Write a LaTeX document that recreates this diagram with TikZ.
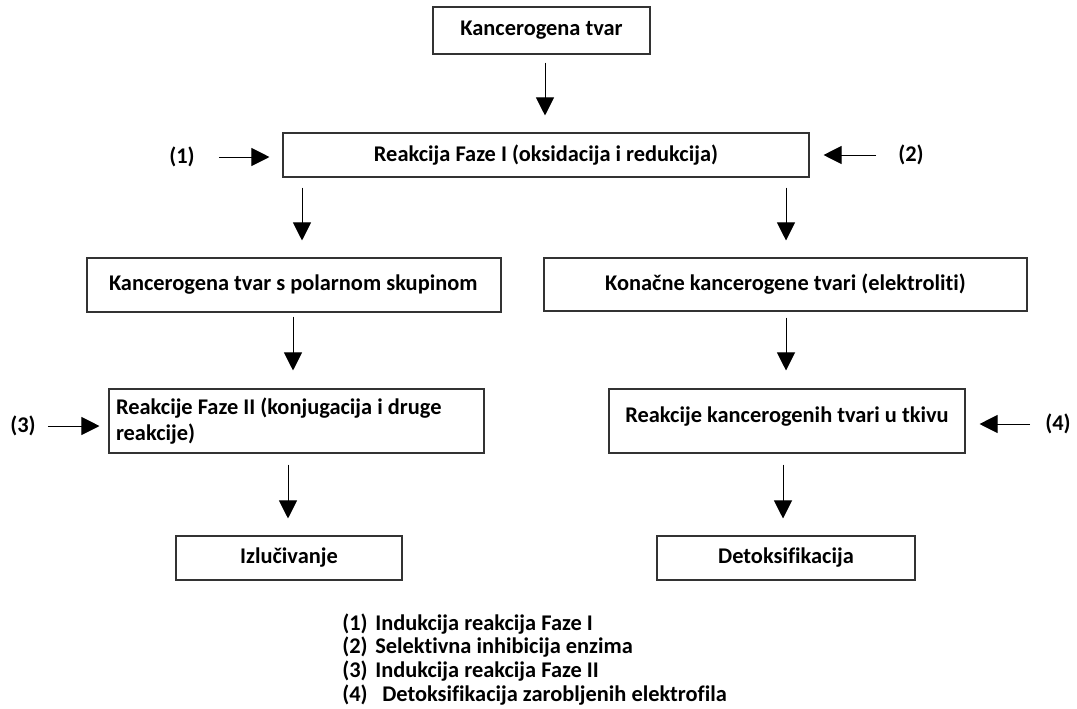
\documentclass[tikz,border=0pt]{standalone}
\usepackage{fontspec}
\setmainfont{Carlito}[Ligatures=NoCommon]
\usepackage{tikz}
\usetikzlibrary{arrows.meta, calc}

\tikzset{
  okvir/.style={draw=black!80, line width=0.8pt, font=\bfseries\fontsize{16.8}{19.5}\selectfont, inner ysep=0pt},
  strelica/.style={line width=0.75pt, -{Triangle[length=13.5pt,width=13.5pt]}},
  oznaka/.style={font=\bfseries\fontsize{16.8}{19.5}\selectfont, inner sep=0pt}
}

\begin{document}
\begin{tikzpicture}[x=0.75pt, y=-0.75pt]
        \useasboundingbox (0,0) rectangle (1077,708);

        \coordinate (T) at (541.5, 30.5);
        \coordinate (F1) at (546, 155);
        \coordinate (P) at (294, 285);
        \coordinate (K) at (785.5, 284.5);
        \coordinate (F2) at (296.5, 421);
        \coordinate (R) at (787, 421);
        \coordinate (I) at (289, 558);
        \coordinate (D) at (786, 558);

        \node[okvir, minimum width=162.75pt, minimum height=35.25pt] (tvar) at (T) {Kancerogena tvar};
        \node[okvir, minimum width=394.5pt, minimum height=33pt] (faza1) at (F1) {Reakcija Faze I (oksidacija i redukcija)};
        \node[okvir, text width=277.5pt, inner xsep=16.5pt, minimum height=40.5pt, align=flush left] (polar) at (P) {Kancerogena tvar s polarnom skupinom};
        \node[okvir, minimum width=362.25pt, minimum height=39.75pt] (konacne) at (K) {Konačne kancerogene tvari (elektroliti)};
        \node[okvir, text width=270.75pt, inner xsep=5.25pt, minimum height=48pt, align=flush left] (faza2) at (F2) {Reakcije Faze II (konjugacija i druge\\reakcije)};
        \node[okvir, minimum width=267pt, text height=24.75pt, text depth=23.25pt] (tkivo) at (R) {Reakcije kancerogenih tvari u tkivu};
        \node[okvir, minimum width=169.5pt, minimum height=33pt] (izluc) at (I) {Izlučivanje};
        \node[okvir, minimum width=193.5pt, minimum height=33pt] (detoks) at (D) {Detoksifikacija};

        \node[oznaka] (l1) at (182, 157) {(1)};
        \node[oznaka] (l2) at (911, 155) {(2)};
        \node[oznaka] (l3) at (23, 426) {(3)};
        \node[oznaka] (l4) at (1058, 424) {(4)};

        \draw[strelica, shorten <=6pt, shorten >=12.75pt] (tvar.south -| 545,0) -- (faza1.north -| 545,0);
        \draw[strelica, shorten <=7.5pt, shorten >=12.75pt] (faza1.south -| 302,0) -- (polar.north -| 302,0);
        \draw[strelica, shorten <=7.5pt, shorten >=12.75pt] (faza1.south -| 786,0) -- (konacne.north -| 786,0);
        \draw[strelica, shorten <=3pt, shorten >=13.5pt] (polar.south -| 293,0) -- (faza2.north -| 293,0);
        \draw[strelica, shorten <=4.5pt, shorten >=13.5pt] (konacne.south -| 786,0) -- (tkivo.north -| 786,0);
        \draw[strelica, shorten <=8.25pt, shorten >=12.75pt] (faza2.south -| 288,0) -- (izluc.north -| 288,0);
        \draw[strelica, shorten <=8.25pt, shorten >=12.75pt] (tkivo.south -| 783,0) -- (detoks.north -| 783,0);

        \draw[strelica, shorten <=18pt, shorten >=9.75pt] (l1.east) -- (l1.east -| faza1.west);
        \draw[strelica, shorten <=16.5pt, shorten >=10.5pt] (l2.west) -- (l2.west -| faza1.east);
        \draw[strelica, shorten <=9pt, shorten >=6.75pt] (l3.east) -- (l3.east -| faza2.west);
        \draw[strelica, shorten <=11.25pt, shorten >=10.5pt] (l4.west) -- (l4.west -| tkivo.east);

        \foreach \n/\y/\x/\t in {1/630/375/Indukcija reakcija Faze I, 2/653/375/Selektivna inhibicija enzima, 3/677/375/Indukcija reakcija Faze II, 4/701/382/Detoksifikacija zarobljenih elektrofila}{
            \node[oznaka, anchor=base west] (b\n) at (342, \y) {(\n)};
            \node[oznaka, anchor=base west] (t\n) at (\x, \y) {\t};
        }
    \end{tikzpicture}
\end{document}
